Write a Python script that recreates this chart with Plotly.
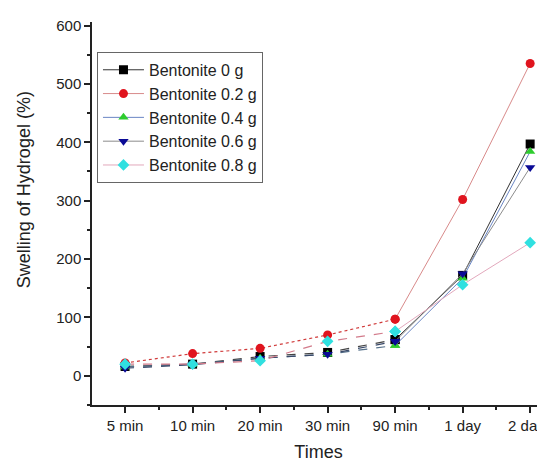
import plotly.graph_objects as go

categories = ["5 min", "10 min", "20 min", "30 min", "90 min", "1 day", "2 days"]
series_names = ["Bentonite 0 g", "Bentonite 0.2 g", "Bentonite 0.4 g", "Bentonite 0.6 g", "Bentonite 0.8 g"]
bent_0 = [16, 20, 33, 40, 62, 172, 397]
bent_02 = [22, 38, 47, 70, 97, 302, 535]
bent_04 = [15, 20, 30, 37, 52, 167, 384]
bent_06 = [13, 19, 30, 37, 59, 175, 357]
bent_08 = [20, 20, 26, 59, 76, 156, 228]
y_ticks = [0, 100, 200, 300, 400, 500, 600]
x_title = "Times"
y_title = "Swelling of Hydrogel (%)"

values = [bent_0, bent_02, bent_04, bent_06, bent_08]
marker_colors = ["#000000", "#e0141e", "#2ecc2e", "#0a0a96", "#30e0e0"]
line_colors = ["#333333", "#d88a8a", "#6a86c4", "#8c8c8c", "#e2a8bc"]
symbols = ["square", "circle", "triangle-up", "triangle-down", "diamond"]
dashes = ["dash", "dot", "dash", "dash", "dash"]
early_line_colors = ["#444444", "#d03a3a", "#55708a", "#3a4a6a", "#d27a8a"]

x_idx = list(range(len(categories)))
split = categories.index("90 min")

fig = go.Figure()
for name, vals, mc, lc, ec, sym, dsh in zip(series_names, values, marker_colors, line_colors,
                                           early_line_colors, symbols, dashes):
    fig.add_trace(go.Scatter(
        x=x_idx[:split + 1], y=vals[:split + 1], mode="lines+markers",
        line=dict(color=ec, width=1.2, dash=dsh),
        marker=dict(symbol=sym, color=mc, size=9),
        name=name, legendgroup=name, showlegend=False))
    fig.add_trace(go.Scatter(
        x=x_idx[split:], y=vals[split:], mode="lines+markers",
        line=dict(color=lc, width=1),
        marker=dict(symbol=sym, color=mc, size=9),
        name=name, legendgroup=name, showlegend=True))

# the page body adds an 8 px offset, so the figure is 8 px smaller and margins shifted
fig.update_layout(
    width=537, height=454,
    margin=dict(l=84, r=0, t=14, b=57),
    paper_bgcolor="white", plot_bgcolor="white",
    font=dict(family="Liberation Sans, Arial, sans-serif", color="#222222"),
    showlegend=True,
    legend=dict(x=0.011, y=0.922, xanchor="left", yanchor="top",
                bgcolor="white", bordercolor="#666666", borderwidth=1,
                font=dict(size=16, color="#222222"), tracegroupgap=0, itemwidth=41),
    xaxis=dict(
        range=[-0.49, 6.22], tickmode="array", tickvals=x_idx, ticktext=categories,
        automargin=False, ticklabeloverflow="allow",
        showgrid=False, zeroline=False, showline=True, linecolor="#222222", linewidth=2,
        ticks="outside", ticklen=6, tickwidth=1.5, tickcolor="#222222",
        tickfont=dict(size=15),
        minor=dict(tickmode="array", tickvals=[i + 0.5 for i in x_idx], ticks="outside",
                   ticklen=3, tickcolor="#222222"),
        title=dict(text=x_title, font=dict(size=18), standoff=13),
    ),
    yaxis=dict(
        range=[-50, 606], tickmode="array", tickvals=y_ticks,
        automargin=False,
        showgrid=False, zeroline=False, showline=True, linecolor="#222222", linewidth=1.5,
        ticks="outside", ticklen=6, tickwidth=1.5, tickcolor="#222222",
        tickfont=dict(size=15),
        minor=dict(tickmode="linear", tick0=-50, dtick=100, ticks="outside",
                   ticklen=3, tickcolor="#222222"),
    ),
    annotations=[dict(
        text=y_title, textangle=-90, showarrow=False,
        xref="paper", yref="paper", x=-0.15, y=0.561,
        xanchor="center", yanchor="middle", font=dict(size=18, color="#222222"),
    )],
)

fig.write_html("out.html")
